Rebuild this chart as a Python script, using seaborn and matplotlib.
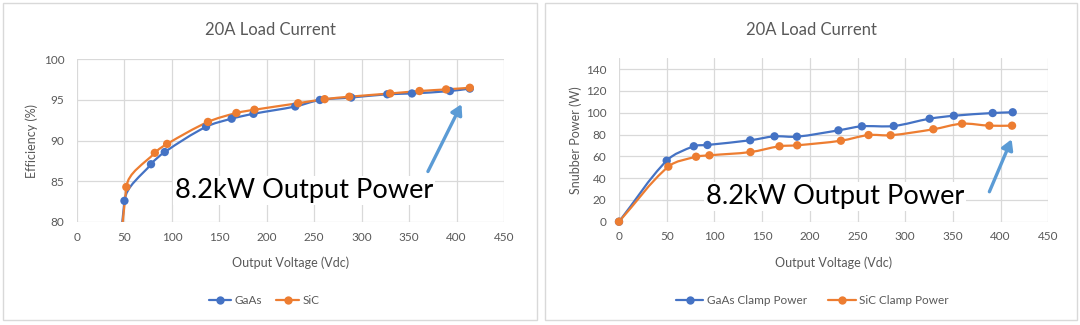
import numpy as np
import pandas as pd
import matplotlib
matplotlib.use("Agg")
import matplotlib.pyplot as plt
from matplotlib.path import Path
from matplotlib.patches import PathPatch, Rectangle, FancyArrowPatch
from matplotlib.lines import Line2D
import seaborn as sns

# ---- data -------------------------------------------------------------
# Efficiency vs output voltage at 20 A load
eff_gaas_v = [0, 50, 78, 92.5, 136, 163, 186, 230, 256, 289, 327, 353, 393, 414]
eff_gaas = [0, 82.6, 87.1, 88.6, 91.7, 92.7, 93.3, 94.2, 95.0, 95.3, 95.7, 95.8, 96.1, 96.4]
eff_sic_v = [0, 52, 82, 95, 138, 168, 187, 233, 261, 287, 330, 361, 389, 414]
eff_sic = [0, 84.3, 88.5, 89.6, 92.3, 93.4, 93.8, 94.6, 95.1, 95.4, 95.8, 96.1, 96.3, 96.5]

# Snubber (clamp) power vs output voltage at 20 A load
snub_gaas_v = [0, 50, 78.4, 92.7, 137.5, 163, 186.5, 230, 254.6, 288, 325.6, 351, 391.7, 412.7]
snub_gaas = [0, 56, 69.2, 70.4, 74.7, 78.3, 78, 83.8, 87.5, 87.8, 94.5, 97.2, 99.7, 100.4]
snub_sic_v = [0, 51.7, 80.8, 94.8, 137.8, 168.2, 186.8, 232.6, 261.6, 284.7, 329.5, 359.6, 388.2, 412]
snub_sic = [0, 50.5, 59.6, 60.9, 63.9, 69.2, 70.1, 74.3, 79.5, 79.3, 84.8, 89.9, 88.1, 88.1]

x_ticks = [0, 50, 100, 150, 200, 250, 300, 350, 400, 450]
eff_ticks = [80, 85, 90, 95, 100]
snub_ticks = [0, 20, 40, 60, 80, 100, 120, 140]

title_text = "20A Load Current"
xlabel_text = "Output Voltage (Vdc)"
note_text = "8.2kW Output Power"

# ---- style ------------------------------------------------------------
sns.set_theme(style="white")
plt.rcParams["font.family"] = ["Lato", "DejaVu Sans"]

BLUE = "#4472C4"
ORANGE = "#ED7D31"
GRID = "#d9d9d9"
TXT = "#595959"
ARROW = "#5B9BD5"

W, H = 1080, 325
fig = plt.figure(figsize=(W / 100, H / 100), dpi=100)
fig.patch.set_facecolor("white")


def fx(px):
    return px / W


def fy(py):
    return 1 - py / H


def smooth_path(ax, xs, ys):
    """Smoothed cubic Bezier path through the points.

    Tangents follow the neighbouring points, scaled by the on-screen
    length of the adjoining segments so short steps do not overshoot.
    """
    pts = np.column_stack([xs, ys]).astype(float)
    scr = ax.transData.transform(pts)
    n = len(pts)
    verts = [pts[0]]
    codes = [Path.MOVETO]
    for i in range(n - 1):
        i0 = max(i - 1, 0)
        i3 = min(i + 2, n - 1)
        d01 = np.hypot(*(scr[i] - scr[i0]))
        d12 = np.hypot(*(scr[i + 1] - scr[i]))
        d23 = np.hypot(*(scr[i3] - scr[i + 1]))
        k1 = d12 / (d01 + d12) / 3.0
        k2 = d12 / (d12 + d23) / 3.0
        c1 = pts[i] + (pts[i + 1] - pts[i0]) * k1
        c2 = pts[i + 1] - (pts[i3] - pts[i]) * k2
        verts += [c1, c2, pts[i + 1]]
        codes += [Path.CURVE4] * 3
    return Path(verts, codes)


def draw_panel(ax, series, ylim, yticks, ylabel, legend_names, legend_pos,
               colspace, handlelen, ylabelpad, clip_markers):
    ax.set_xlim(0, 450)
    ax.set_ylim(*ylim)
    for xs, ys, col in series:
        ax.add_patch(PathPatch(smooth_path(ax, xs, ys), fill=False, ec=col,
                               lw=1.6, zorder=3, capstyle="round"))
    df = pd.concat([
        pd.DataFrame({"v": xs, "y": ys, "s": name})
        for (xs, ys, _), name in zip(series, legend_names)
    ])
    sns.scatterplot(data=df, x="v", y="y", hue="s",
                    palette=[c for _, _, c in series], s=36,
                    edgecolor="none", legend=False, ax=ax, zorder=4,
                    clip_on=clip_markers)
    ax.set_xlim(0, 450)
    ax.set_ylim(*ylim)
    ax.set_xticks(x_ticks)
    ax.set_yticks(yticks)
    ax.grid(True, color=GRID, lw=0.9)
    ax.set_axisbelow(True)
    for s in ax.spines.values():
        s.set_visible(False)
    ax.tick_params(axis="both", length=0, labelsize=8.5, labelcolor=TXT)
    ax.tick_params(axis="x", pad=7)
    ax.tick_params(axis="y", pad=9)
    ax.set_xlabel(xlabel_text, fontsize=9, color=TXT, labelpad=10)
    ax.set_ylabel(ylabel, fontsize=9, color=TXT, labelpad=ylabelpad)

    handles = [Line2D([0], [0], color=c, lw=1.6, marker="o", markersize=6,
                      markeredgewidth=0)
               for _, _, c in series]
    leg = fig.legend(handles, legend_names, loc="center",
                     bbox_to_anchor=legend_pos, ncol=2, frameon=False,
                     fontsize=8.5, handlelength=handlelen, handletextpad=0.3,
                     columnspacing=colspace)
    for t in leg.get_texts():
        t.set_color(TXT)


# panel frames
for x0, x1 in [(3, 537), (545, 1077)]:
    fig.add_artist(Rectangle((fx(x0), fy(320)), (x1 - x0) / W, (320 - 3) / H,
                             transform=fig.transFigure, fill=False,
                             ec=GRID, lw=1.0))

ax1 = fig.add_axes([fx(77), fy(222), (504 - 77) / W, (222 - 59.3) / H])
ax2 = fig.add_axes([fx(619), fy(221.7), (1048.3 - 619) / W, (221.7 - 58.2) / H])

draw_panel(ax1,
           [(eff_gaas_v, eff_gaas, BLUE), (eff_sic_v, eff_sic, ORANGE)],
           (80, 100), eff_ticks, "Efficiency (%)",
           ["GaAs", "SiC"], (fx(264), fy(300.7)), 1.2, 1.9, 4, True)
draw_panel(ax2,
           [(snub_gaas_v, snub_gaas, BLUE), (snub_sic_v, snub_sic, ORANGE)],
           (0, 150), snub_ticks, "Snubber Power (W)",
           ["GaAs Clamp Power", "SiC Clamp Power"], (fx(812.5), fy(300.7)),
           1.8, 2.3, 3, False)

# titles
for cx in (270, 811):
    fig.text(fx(cx), fy(30), title_text, ha="center", va="center",
             fontsize=12, color=TXT)

# annotation text with white box and arrow
for (tx, ty), (ax0, ay0), (ax1_, ay1) in [
    ((175, 197.7), (426.7, 174), (462.7, 101.7)),
    ((706, 204.3), (988.3, 194.3), (1012.7, 136.7)),
]:
    fig.text(fx(tx), fy(ty), note_text, ha="left", va="baseline",
             fontsize=19.6, color="black", zorder=5,
             bbox=dict(fc="white", ec="none", pad=1.5))
    fig.add_artist(FancyArrowPatch((fx(ax0), fy(ay0)), (fx(ax1_), fy(ay1)),
                                   transform=fig.transFigure,
                                   arrowstyle="-|>,head_length=6,head_width=3.5",
                                   color=ARROW, lw=2.4, zorder=6))

fig.savefig("out.png", dpi=100, facecolor="white")
